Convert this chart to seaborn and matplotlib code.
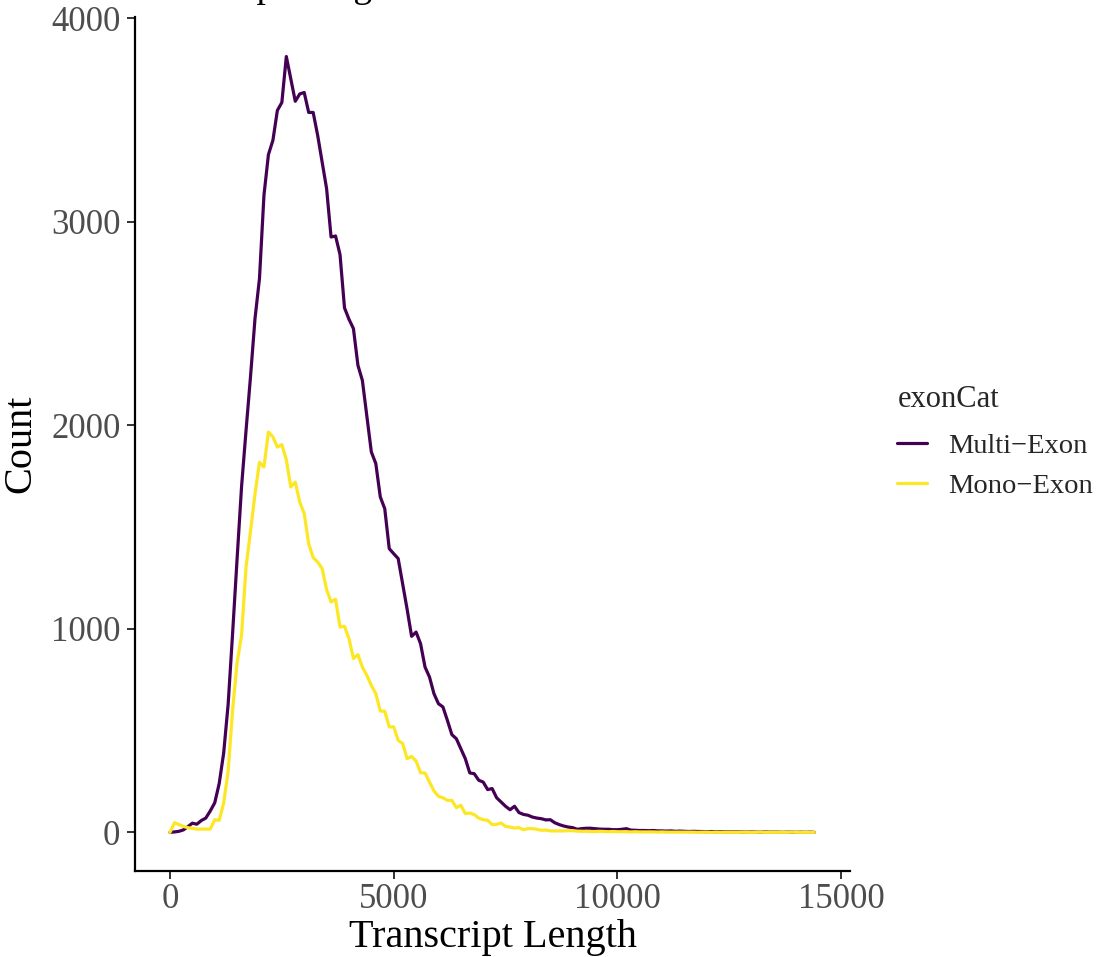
import numpy as np
import pandas as pd
import matplotlib
matplotlib.use("Agg")
import matplotlib.pyplot as plt
import seaborn as sns
from matplotlib.lines import Line2D

# ---- data (bin centres of transcript length, counts per bin) ----
bin_width = 100
length_bins = np.arange(0, 14500, bin_width)

multi_exon = [
    0, 2, 5, 12, 28, 45, 40, 58, 70, 105,
    145, 240, 390, 630, 980, 1345, 1700, 1975, 2240, 2524,
    2721, 3130, 3330, 3400, 3547, 3586, 3812, 3703, 3592, 3628,
    3635, 3537, 3537, 3425, 3294, 3163, 2925, 2930, 2839, 2577,
    2521, 2475, 2295, 2220, 2045, 1869, 1812, 1648, 1590, 1394,
    1369, 1345, 1220, 1096, 963, 984, 927, 812, 763, 681,
    632, 616, 550, 480, 460, 411, 362, 292, 288, 256,
    247, 210, 215, 170, 149, 128, 111, 128, 97, 88,
    84, 75, 70, 67, 61, 62, 47, 38, 31, 26,
    23, 15, 18, 20, 20, 18, 16, 15, 15, 13,
    13, 15, 18, 11, 10, 9, 9, 8, 9, 7,
    7, 6, 7, 5, 6, 5, 4, 5, 4, 4,
    3, 4, 3, 3, 2, 3, 2, 2, 2, 1,
    2, 1, 1, 2, 1, 1, 1, 0, 1, 1,
    0, 1, 0, 1, 0,
]

mono_exon = [
    0, 47, 38, 29, 23, 19, 16, 16, 16, 16,
    62, 59, 145, 300, 603, 833, 970, 1304, 1480, 1662,
    1818, 1795, 1967, 1943, 1893, 1905, 1831, 1697, 1721, 1623,
    1566, 1418, 1350, 1328, 1296, 1193, 1132, 1145, 1009, 1012,
    952, 854, 873, 812, 771, 722, 681, 596, 595, 518,
    518, 452, 436, 362, 373, 350, 293, 291, 247, 203,
    177, 170, 157, 157, 121, 133, 92, 95, 87, 70,
    62, 59, 38, 39, 46, 29, 26, 21, 23, 13,
    18, 18, 15, 10, 11, 7, 7, 7, 7, 8,
    8, 6, 5, 5, 4, 4, 5, 4, 3, 4,
    3, 3, 3, 2, 3, 2, 2, 2, 2, 1,
    2, 1, 1, 1, 1, 1, 1, 1, 0, 1,
    1, 0, 1, 0, 0, 1, 0, 0, 1, 0,
    0, 0, 1, 0, 0, 0, 0, 0, 0, 1,
    0, 0, 0, 0, 0,
]

categories = ["Multi\u2212Exon", "Mono\u2212Exon"]
colors = ["#440154", "#FDE725"]

df = pd.concat([
    pd.DataFrame({"length": length_bins, "count": multi_exon, "exonCat": categories[0]}),
    pd.DataFrame({"length": length_bins, "count": mono_exon, "exonCat": categories[1]}),
], ignore_index=True)

x_ticks = [0, 5000, 10000, 15000]
y_ticks = [0, 1000, 2000, 3000, 4000]

# ---- style ----
sns.set_theme(style="ticks")
plt.rcParams["font.family"] = ["Liberation Serif", "DejaVu Serif"]

fig = plt.figure(figsize=(10.98, 9.57), dpi=100)
ax = fig.add_axes([135 / 1098, 1 - 871 / 957, (850 - 135) / 1098, (871 - 17) / 957])

sns.lineplot(data=df, x="length", y="count", hue="exonCat",
             hue_order=categories, palette=colors, linewidth=2.3,
             ax=ax, legend=False, sort=False)

ax.set_xlim(-782, 15198)
ax.set_ylim(-190, 4006)
ax.set_xticks(x_ticks)
ax.set_xticklabels([str(v) for v in x_ticks])
ax.set_yticks(y_ticks)
ax.set_yticklabels([str(v) for v in y_ticks])

for side in ["top", "right"]:
    ax.spines[side].set_visible(False)
for side in ["left", "bottom"]:
    ax.spines[side].set_color("black")
    ax.spines[side].set_linewidth(1.6)

ax.tick_params(axis="both", colors="#333333", width=1.4, length=5.5,
               labelsize=25, labelcolor="#4D4D4D")
ax.tick_params(axis="x", pad=3)
ax.tick_params(axis="y", pad=5)

ax.set_xlabel("Transcript Length", fontsize=29, color="black", labelpad=2)
ax.set_ylabel("Count", fontsize=29, color="black", labelpad=8)
ax.grid(False)

# title, mostly cropped at the top of the figure
fig.text(133 / 1098, 1 + 3 / 957, "Transcript Length Distribution",
         fontsize=27, ha="left", va="baseline", color="black")

handles = [Line2D([0], [0], color=c, lw=2.3) for c in colors]
leg = fig.legend(handles, categories, title="exonCat",
                 loc="center left", bbox_to_anchor=(886 / 1098, 1 - 442 / 957),
                 frameon=False, fontsize=20.5, title_fontsize=22,
                 handlelength=1.05, handletextpad=0.75, labelspacing=0.5,
                 borderaxespad=0.0)
leg._legend_box.align = "left"
leg._legend_box.sep = 14

fig.savefig("out.png", dpi=100)
